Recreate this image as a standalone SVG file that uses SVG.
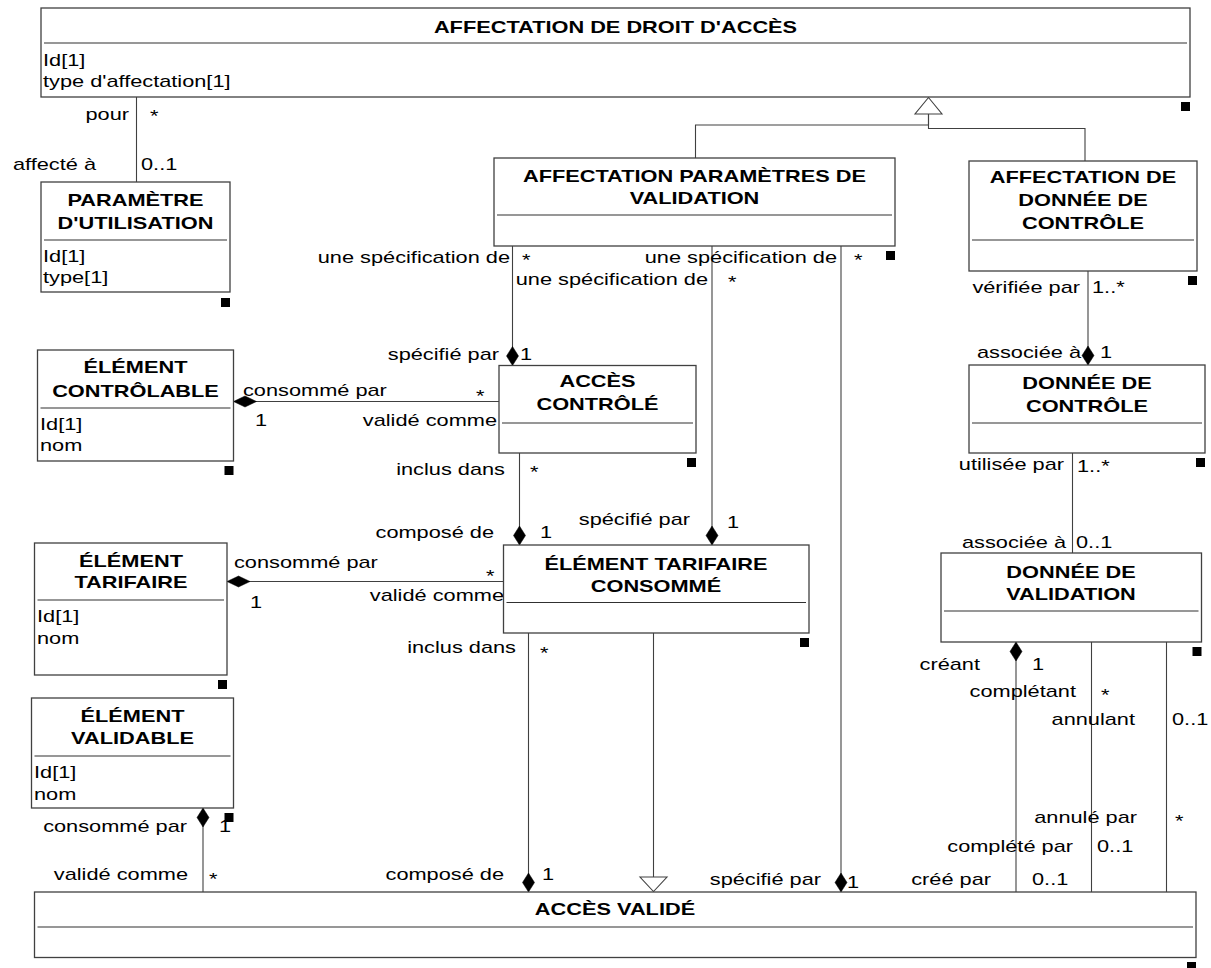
<svg xmlns="http://www.w3.org/2000/svg" xmlns:xlink="http://www.w3.org/1999/xlink" width="1211" height="968" viewBox="0 0 1211 968">
<style>
.box{fill:#fff;stroke:#404040;stroke-width:1.3}
.sep{stroke:#303030;stroke-width:1.2}
.sq{fill:#000}
.ln{fill:none;stroke:#404040;stroke-width:1.1}
.dia{fill:#000;stroke:#000;stroke-width:0.5}
.tri{fill:#fff;stroke:#404040;stroke-width:1.1}
text{font-family:"Liberation Sans",Arial,Helvetica,sans-serif;font-size:17px;fill:#000}
.b{font-weight:bold}
.m{text-anchor:middle}
.e{text-anchor:end}
</style>
<defs>
<path id="dv" d="M0,0 L-6,-9.5 L0,-19 L6,-9.5 Z"/>
<path id="dvt" d="M0,0 L-6,9.5 L0,19 L6,9.5 Z"/>
<path id="dh" d="M0,0 L11.5,-5.5 L23,0 L11.5,5.5 Z"/>
</defs>
<rect width="1211" height="968" fill="#fff"/>

<g id="connectors">
<path class="ln" d="M136.5,97 V182"/>
<path class="ln" d="M928.5,114 V125 H695.5 V158"/>
<path class="ln" d="M928.5,114 V128.5 H1085 V161"/>
<polygon class="tri" points="928.5,97.5 915,114 942,114"/>
<path class="ln" d="M512.5,246 V365.5"/>
<use href="#dv" xlink:href="#dv" class="dia" x="512.5" y="365.5"/>
<path class="ln" d="M712,246 V545"/>
<use href="#dv" xlink:href="#dv" class="dia" x="712" y="545"/>
<path class="ln" d="M841,246 V892"/>
<use href="#dv" xlink:href="#dv" class="dia" x="841" y="892"/>
<path class="ln" d="M233.5,401.5 H499"/>
<use href="#dh" xlink:href="#dh" class="dia" x="233.5" y="401.5"/>
<path class="ln" d="M519.5,453 V545"/>
<use href="#dv" xlink:href="#dv" class="dia" x="519.5" y="545"/>
<path class="ln" d="M227,581.5 H503.5"/>
<use href="#dh" xlink:href="#dh" class="dia" x="227" y="581.5"/>
<path class="ln" d="M528.5,633 V892"/>
<use href="#dv" xlink:href="#dv" class="dia" x="528.5" y="892"/>
<path class="ln" d="M653.5,633 V877"/>
<polygon class="tri" points="640,877 667,877 653.5,891.5"/>
<path class="ln" d="M203,808 V892"/>
<use href="#dvt" xlink:href="#dvt" class="dia" x="203" y="808"/>
<path class="ln" d="M1088,271 V365"/>
<use href="#dv" xlink:href="#dv" class="dia" x="1088" y="365"/>
<path class="ln" d="M1072.5,453 V553"/>
<path class="ln" d="M1016,642 V892"/>
<use href="#dvt" xlink:href="#dvt" class="dia" x="1016" y="642"/>
<path class="ln" d="M1091.5,642 V892"/>
<path class="ln" d="M1166.5,642 V892"/>

<g id="labels">
<text transform="translate(129,120) scale(1.28,1)" class="e">pour</text>
<text transform="translate(150,122) scale(1.28,1)">*</text>
<text transform="translate(96,170) scale(1.28,1)" class="e">affecté à</text>
<text transform="translate(141,170) scale(1.28,1)">0..1</text>

<text transform="translate(510,263) scale(1.28,1)" class="e">une spécification de</text>
<text transform="translate(522,266) scale(1.28,1)">*</text>
<text transform="translate(499,360) scale(1.28,1)" class="e">spécifié par</text>
<text transform="translate(520,360) scale(1.28,1)">1</text>

<text transform="translate(708,285) scale(1.28,1)" class="e">une spécification de</text>
<text transform="translate(728,288) scale(1.28,1)">*</text>
<text transform="translate(690,525) scale(1.28,1)" class="e">spécifié par</text>
<text transform="translate(727,528) scale(1.28,1)">1</text>

<text transform="translate(837,263) scale(1.28,1)" class="e">une spécification de</text>
<text transform="translate(854,266) scale(1.28,1)">*</text>
<text transform="translate(821,885) scale(1.28,1)" class="e">spécifié par</text>
<text transform="translate(847,888) scale(1.28,1)">1</text>

<text transform="translate(243,396) scale(1.28,1)">consommé par</text>
<text transform="translate(476,402) scale(1.28,1)">*</text>
<text transform="translate(255,426) scale(1.28,1)">1</text>
<text transform="translate(497,426) scale(1.28,1)" class="e">validé comme</text>

<text transform="translate(505,475) scale(1.28,1)" class="e">inclus dans</text>
<text transform="translate(530,478) scale(1.28,1)">*</text>
<text transform="translate(494,538) scale(1.28,1)" class="e">composé de</text>
<text transform="translate(540,538) scale(1.28,1)">1</text>

<text transform="translate(234,568) scale(1.28,1)">consommé par</text>
<text transform="translate(486,582) scale(1.28,1)">*</text>
<text transform="translate(250,608) scale(1.28,1)">1</text>
<text transform="translate(504,601) scale(1.28,1)" class="e">validé comme</text>

<text transform="translate(516,653) scale(1.28,1)" class="e">inclus dans</text>
<text transform="translate(540,659) scale(1.28,1)">*</text>
<text transform="translate(504,880) scale(1.28,1)" class="e">composé de</text>
<text transform="translate(542,880) scale(1.28,1)">1</text>

<text transform="translate(187,832) scale(1.28,1)" class="e">consommé par</text>
<text transform="translate(219,832) scale(1.28,1)">1</text>
<text transform="translate(188,880) scale(1.28,1)" class="e">validé comme</text>
<text transform="translate(209,885) scale(1.28,1)">*</text>

<text transform="translate(1080,293) scale(1.28,1)" class="e">vérifiée par</text>
<text transform="translate(1092,293) scale(1.28,1)">1..*</text>
<text transform="translate(1081,358) scale(1.28,1)" class="e">associée à</text>
<text transform="translate(1100,358) scale(1.28,1)">1</text>

<text transform="translate(1064,470) scale(1.28,1)" class="e">utilisée par</text>
<text transform="translate(1077,472) scale(1.28,1)">1..*</text>
<text transform="translate(1066,548) scale(1.28,1)" class="e">associée à</text>
<text transform="translate(1076,548) scale(1.28,1)">0..1</text>

<text transform="translate(980,670) scale(1.28,1)" class="e">créant</text>
<text transform="translate(1032,670) scale(1.28,1)">1</text>
<text transform="translate(1076,697) scale(1.28,1)" class="e">complétant</text>
<text transform="translate(1101,701) scale(1.28,1)">*</text>
<text transform="translate(1135,725) scale(1.28,1)" class="e">annulant</text>
<text transform="translate(1172,725) scale(1.28,1)">0..1</text>
<text transform="translate(1137,823) scale(1.28,1)" class="e">annulé par</text>
<text transform="translate(1175,827) scale(1.28,1)">*</text>
<text transform="translate(1073,852) scale(1.28,1)" class="e">complété par</text>
<text transform="translate(1097,852) scale(1.28,1)">0..1</text>
<text transform="translate(991,885) scale(1.28,1)" class="e">créé par</text>
<text transform="translate(1032,885) scale(1.28,1)">0..1</text>
</g>
</g>

<g id="affectation-droit-acces">
<rect class="box" x="41" y="8" width="1149" height="89"/>
<line class="sep" x1="44" y1="43" x2="1187" y2="43"/>
<text transform="translate(615.5,33) scale(1.28,1)" class="b m">AFFECTATION DE DROIT D'ACCÈS</text>
<text transform="translate(43,66) scale(1.28,1)">Id[1]</text>
<text transform="translate(43,87) scale(1.28,1)">type d'affectation[1]</text>
<rect class="sq" x="1181" y="102" width="9" height="9"/>
</g>

<g id="parametre-utilisation">
<rect class="box" x="41" y="182" width="189" height="110"/>
<line class="sep" x1="44" y1="240" x2="227" y2="240"/>
<text transform="translate(135.5,206) scale(1.28,1)" class="b m">PARAMÈTRE</text>
<text transform="translate(135.5,229) scale(1.28,1)" class="b m">D'UTILISATION</text>
<text transform="translate(43,262) scale(1.28,1)">Id[1]</text>
<text transform="translate(43,283) scale(1.28,1)">type[1]</text>
<rect class="sq" x="221" y="298" width="9" height="9"/>
</g>

<g id="affectation-parametres-validation">
<rect class="box" x="494" y="158" width="401" height="88"/>
<line class="sep" x1="497" y1="215" x2="892" y2="215"/>
<text transform="translate(694.5,182) scale(1.28,1)" class="b m">AFFECTATION PARAMÈTRES DE</text>
<text transform="translate(694.5,204) scale(1.28,1)" class="b m">VALIDATION</text>
<rect class="sq" x="886" y="251" width="9" height="9"/>
</g>

<g id="affectation-donnee-controle">
<rect class="box" x="969" y="161" width="228" height="110"/>
<line class="sep" x1="972" y1="240" x2="1194" y2="240"/>
<text transform="translate(1083,183) scale(1.28,1)" class="b m">AFFECTATION DE</text>
<text transform="translate(1083,206) scale(1.28,1)" class="b m">DONNÉE DE</text>
<text transform="translate(1083,229) scale(1.28,1)" class="b m">CONTRÔLE</text>
<rect class="sq" x="1188" y="276" width="9" height="9"/>
</g>

<g id="acces-controle">
<rect class="box" x="499" y="365.5" width="197" height="87.5"/>
<line class="sep" x1="502" y1="423" x2="693" y2="423"/>
<text transform="translate(597.5,387) scale(1.28,1)" class="b m">ACCÈS</text>
<text transform="translate(597.5,410) scale(1.28,1)" class="b m">CONTRÔLÉ</text>
<rect class="sq" x="687" y="458" width="9" height="9"/>
</g>

<g id="element-controlable">
<rect class="box" x="37.5" y="350" width="196" height="111"/>
<line class="sep" x1="40.5" y1="408" x2="230.5" y2="408"/>
<text transform="translate(135.5,373) scale(1.28,1)" class="b m">ÉLÉMENT</text>
<text transform="translate(135.5,397) scale(1.28,1)" class="b m">CONTRÔLABLE</text>
<text transform="translate(40,430) scale(1.28,1)">Id[1]</text>
<text transform="translate(40,451) scale(1.28,1)">nom</text>
<rect class="sq" x="224.5" y="466" width="9" height="9"/>
</g>

<g id="element-tarifaire">
<rect class="box" x="34.5" y="543" width="192.5" height="132"/>
<line class="sep" x1="37.5" y1="600" x2="224" y2="600"/>
<text transform="translate(131,567) scale(1.28,1)" class="b m">ÉLÉMENT</text>
<text transform="translate(131,588) scale(1.28,1)" class="b m">TARIFAIRE</text>
<text transform="translate(37,622) scale(1.28,1)">Id[1]</text>
<text transform="translate(37,644) scale(1.28,1)">nom</text>
<rect class="sq" x="218" y="680" width="9" height="9"/>
</g>

<g id="element-tarifaire-consomme">
<rect class="box" x="503.5" y="545" width="305.5" height="88"/>
<line class="sep" x1="506.5" y1="602.5" x2="806" y2="602.5"/>
<text transform="translate(656,570) scale(1.28,1)" class="b m">ÉLÉMENT TARIFAIRE</text>
<text transform="translate(656,592) scale(1.28,1)" class="b m">CONSOMMÉ</text>
<rect class="sq" x="800" y="638" width="9" height="9"/>
</g>

<g id="element-validable">
<rect class="box" x="31.5" y="698" width="202" height="110"/>
<line class="sep" x1="34.5" y1="756" x2="230.5" y2="756"/>
<text transform="translate(132.5,722) scale(1.28,1)" class="b m">ÉLÉMENT</text>
<text transform="translate(132.5,744) scale(1.28,1)" class="b m">VALIDABLE</text>
<text transform="translate(34,778) scale(1.28,1)">Id[1]</text>
<text transform="translate(34,800) scale(1.28,1)">nom</text>
<rect class="sq" x="224.5" y="813" width="9" height="9"/>
</g>

<g id="acces-valide">
<rect class="box" x="34.5" y="892" width="1161.5" height="65.5"/>
<line class="sep" x1="37.5" y1="927" x2="1193" y2="927"/>
<text transform="translate(615,915) scale(1.28,1)" class="b m">ACCÈS VALIDÉ</text>
<rect class="sq" x="1187" y="962" width="9" height="9"/>
</g>

<g id="donnee-controle">
<rect class="box" x="969" y="365" width="236" height="88"/>
<line class="sep" x1="972" y1="423" x2="1202" y2="423"/>
<text transform="translate(1087,389) scale(1.28,1)" class="b m">DONNÉE DE</text>
<text transform="translate(1087,412) scale(1.28,1)" class="b m">CONTRÔLE</text>
<rect class="sq" x="1196" y="458" width="9" height="9"/>
</g>

<g id="donnee-validation">
<rect class="box" x="941" y="553" width="260.5" height="89"/>
<line class="sep" x1="944" y1="611" x2="1198.5" y2="611"/>
<text transform="translate(1071,578) scale(1.28,1)" class="b m">DONNÉE DE</text>
<text transform="translate(1071,600) scale(1.28,1)" class="b m">VALIDATION</text>
<rect class="sq" x="1192.5" y="647" width="9" height="9"/>
</g>
</svg>
